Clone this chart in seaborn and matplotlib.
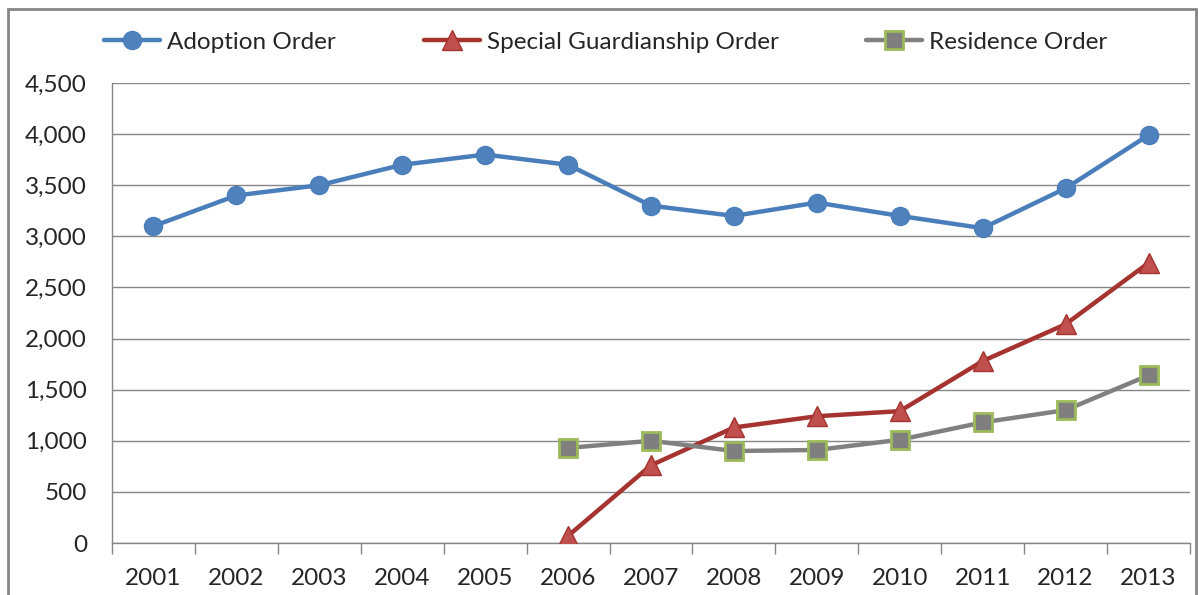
import numpy as np
import pandas as pd
import matplotlib
matplotlib.use("Agg")
import matplotlib.pyplot as plt
import seaborn as sns
from matplotlib.ticker import FuncFormatter, FixedLocator
from matplotlib.patches import Rectangle

years = [2001, 2002, 2003, 2004, 2005, 2006, 2007, 2008, 2009, 2010, 2011, 2012, 2013]
adoption = [3100, 3400, 3500, 3700, 3800, 3700, 3300, 3200, 3330, 3200, 3080, 3470, 3990]
sgo_years = [2006, 2007, 2008, 2009, 2010, 2011, 2012, 2013]
sgo = [70, 760, 1130, 1240, 1290, 1780, 2140, 2740]
res_years = [2006, 2007, 2008, 2009, 2010, 2011, 2012, 2013]
residence = [930, 1000, 900, 910, 1010, 1180, 1300, 1640]
series_names = ["Adoption Order", "Special Guardianship Order", "Residence Order"]

sns.set_theme(style="white")
plt.rcParams['font.family'] = ['Lato', 'DejaVu Sans']

fig = plt.figure(figsize=(11.98, 5.95), dpi=100)
W, H = 1198, 595
ax = fig.add_axes([112 / W, 1 - 543 / H, (1190 - 112) / W, (543 - 83) / H])

df_a = pd.DataFrame({"year": years, "value": adoption})
df_s = pd.DataFrame({"year": sgo_years, "value": sgo})
df_r = pd.DataFrame({"year": res_years, "value": residence})

sns.lineplot(data=df_a, x="year", y="value", ax=ax, color="#4A7EBB", linewidth=3.2,
             marker="o", markersize=13, markerfacecolor="#4F81BD", markeredgecolor="#4A7EBB",
             markeredgewidth=1, label=series_names[0], zorder=3)
sns.lineplot(data=df_s, x="year", y="value", ax=ax, color="#A5332F", linewidth=3.2,
             marker="^", markersize=14, markerfacecolor="#C0504D", markeredgecolor="#A5332F",
             markeredgewidth=1, label=series_names[1], zorder=3)
sns.lineplot(data=df_r, x="year", y="value", ax=ax, color="#808080", linewidth=3.2,
             marker="s", markersize=13, markerfacecolor="#7F7F7F", markeredgecolor="#9BBB59",
             markeredgewidth=2, label=series_names[2], zorder=3)

ax.set_xlim(2000.5, 2013.5)
ax.set_ylim(0, 4500)
ax.set_yticks(np.arange(0, 4501, 500))
ax.yaxis.set_major_formatter(FuncFormatter(lambda v, p: f"{int(v):,}"))
ax.set_xticks(years)
ax.set_xticklabels([str(y) for y in years])
ax.xaxis.set_minor_locator(FixedLocator([y + 0.5 for y in range(2000, 2014)]))
ax.tick_params(axis="x", which="major", length=0, labelsize=17.5, pad=18, colors="#262626")
ax.tick_params(axis="x", which="minor", length=8, width=1, color="#868686", bottom=True)
ax.tick_params(axis="y", which="major", length=0, labelsize=17.5, pad=18, colors="#262626")
ax.grid(axis="y", color="#868686", linewidth=1)
ax.set_axisbelow(True)
for s in ["top", "right"]:
    ax.spines[s].set_visible(False)
for s in ["left", "bottom"]:
    ax.spines[s].set_color("#868686")
    ax.spines[s].set_linewidth(1)
ax.set_xlabel("")
ax.set_ylabel("")

leg = ax.legend(loc="center", bbox_to_anchor=((606 - 112) / 1078, (543 - 42) / 460), ncol=3,
                frameon=False, fontsize=17.5, handlelength=2.3, handletextpad=0.3,
                columnspacing=3.6, borderaxespad=0, borderpad=0)
for t in leg.get_texts():
    t.set_color("#262626")

fig.patches.append(Rectangle((8 / W, -0.05), (1196 - 8) / W, 1 - 9 / H + 0.05,
                             transform=fig.transFigure, fill=False,
                             edgecolor="#868686", linewidth=2))

fig.savefig("out.png", dpi=100)
